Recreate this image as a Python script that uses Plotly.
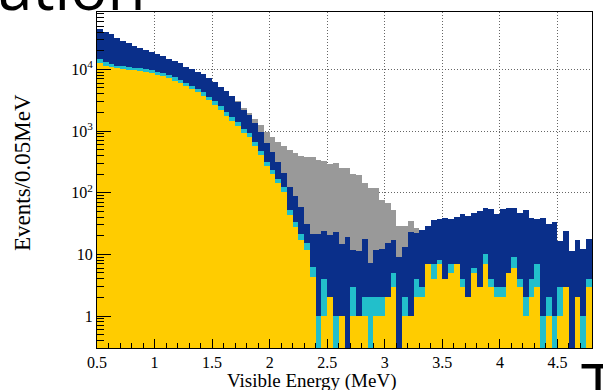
import plotly.graph_objects as go

# Visible-energy spectrum, 0.05 MeV bins from 0.5 to 4.8 MeV
E_MIN = 0.5
BIN_W = 0.05

# Histogram contents per bin (events / 0.05 MeV)
total_bkg = [  # grey
    43000, 39000, 35000, 30500, 27500, 25000, 23000, 21300, 19500, 18000,
    16600, 15400, 14000, 12900, 11900, 10500, 9600, 8700, 7900, 6950,
    6000, 5000, 4300, 3600, 3050, 2380, 1970, 1540, 1245, 970,
    785, 652, 568, 489, 432, 391, 381, 381, 345, 328,
    290, 305, 256, 247, 199, 192, 141, 120, 121, 75,
    69, 53, 29, 29, 35, 27, 20, 22, 25, 28,
    30, 30, 32, 35, 33, 36, 38, 42, 40, 35,
    40, 42, 42, 36, 40, 30, 28, 30, 24, 25,
    12, 18, 8, 13, 9, 13,
]
signal_total = [  # navy
    45000, 40700, 37000, 31800, 28800, 26400, 24200, 22400, 20500, 18900,
    17500, 16200, 14700, 13600, 12500, 11000, 10100, 9150, 8300, 7300,
    6300, 5220, 4450, 3690, 2910, 2200, 1800, 1350, 960, 650,
    465, 316, 205, 124, 88, 59, 31.5, 21.7, 21.7, 24,
    20.4, 23.1, 14.9, 19.2, 11.9, 11.4, 18, 7.3, 11.9, 12,
    15.3, 16.9, 9.1, 13.2, 23, 22, 24.6, 28.6, 35.8, 37.2,
    39, 38.1, 40.5, 45.9, 42, 47, 50.1, 56.7, 53.4, 44.8,
    53.4, 56.7, 55.4, 47, 52, 39.5, 37.2, 39.5, 31.6, 33.6,
    16.3, 24, 11.2, 17.4, 12.1, 18,
]
component_b = [  # cyan
    14700, 13300, 12050, 11450, 11200, 10900, 10600, 10400, 10000, 9620,
    9140, 8710, 8090, 7420, 6700, 6060, 5420, 4840, 4230, 3590,
    3020, 2510, 2030, 1660, 1380, 1070, 920, 670, 480, 320,
    235, 168, 122, 53, 33.6, 21.7, 15, 6.2, 1, 4,
    2, 1, 1, 0, 3, 1, 2, 2, 2, 2,
    2, 5, 0, 2, 1, 4, 3, 7, 7, 8,
    4, 7, 7, 4, 2, 6, 3, 10, 4, 3,
    3, 5, 9, 4, 2, 4, 7, 1, 2, 1,
    3, 3, 0, 2, 1, 4,
]
component_a = [  # yellow
    12500, 11500, 10800, 10500, 10100, 9860, 9620, 9280, 8920, 8600,
    8170, 7780, 7140, 6530, 5930, 5360, 4790, 4280, 3730, 3170,
    2630, 2180, 1770, 1450, 1200, 940, 785, 568, 405, 269,
    199, 141, 101, 43, 27.9, 16.9, 11.6, 4.3, 0, 1,
    2, 0, 1, 0, 1, 1, 1, 0, 1, 1,
    2, 3, 0, 1, 1, 2, 2, 7, 4, 7,
    4, 5, 7, 3, 2, 5, 3, 7, 3, 2,
    2, 5, 6, 3, 1, 2, 3, 0, 1, 0,
    1, 3, 0, 2, 0, 3,
]

x_ticks = [0.5, 1, 1.5, 2, 2.5, 3, 3.5, 4, 4.5]
x_tick_text = ["0.5", "1", "1.5", "2", "2.5", "3", "3.5", "4", "4.5"]
y_ticks = [1, 10, 100, 1000, 10000]
y_tick_text = ["1", "10", "10<sup>2</sup>", "10<sup>3</sup>", "10<sup>4</sup>"]

centers = [E_MIN + BIN_W * (i + 0.5) for i in range(len(signal_total))]


def clean(vals):
    return [v if v > 0 else None for v in vals]


fig = go.Figure()
for vals, col in [
    (total_bkg, "#999999"),
    (signal_total, "#0A2F8A"),
    (component_b, "#22BFCB"),
    (component_a, "#FFCC00"),
]:
    fig.add_trace(go.Bar(
        x=centers, y=clean(vals), width=BIN_W,
        marker=dict(color=col, line=dict(width=0)),
        showlegend=False, hoverinfo="skip",
    ))

W, H = 603, 390
L, R, T, B = 97, 11, 12, 42
PW, PH = W - L - R, H - T - B


def px(xp):
    return (xp - L) / PW


def py(yp):
    return (H - B - yp) / PH


serif = "Liberation Serif"
grid_dash = "1px,2px"

fig.update_layout(
    width=W, height=H,
    margin=dict(l=L, r=R, t=T, b=B, pad=0),
    paper_bgcolor="white", plot_bgcolor="white",
    barmode="overlay", bargap=0,
    font=dict(family=serif, size=16, color="black"),
    xaxis=dict(
        range=[0.5, 4.8], tickvals=x_ticks, ticktext=x_tick_text,
        ticks="inside", ticklen=9, tickwidth=1, tickcolor="black",
        minor=dict(dtick=0.1, tick0=0.5, ticks="inside", ticklen=5,
                   tickcolor="black", showgrid=False),
        showline=True, linecolor="black", linewidth=1, mirror=True,
        showgrid=True, gridcolor="#666666", griddash=grid_dash, gridwidth=1,
        zeroline=False, tickfont=dict(family=serif, size=16),
    ),
    yaxis=dict(
        type="log", range=[-0.519, 4.93],
        tickvals=y_ticks, ticktext=y_tick_text,
        ticks="inside", ticklen=14, tickwidth=1, tickcolor="black",
        minor=dict(dtick="D1", ticks="inside", ticklen=7,
                   tickcolor="black", showgrid=False),
        showline=True, linecolor="black", linewidth=1, mirror=True,
        showgrid=True, gridcolor="#666666", griddash=grid_dash, gridwidth=1,
        zeroline=False, tickfont=dict(family=serif, size=16),
    ),
    annotations=[
        dict(text="Visible Energy (MeV)", xref="paper", yref="paper",
             x=px(311), y=py(381), xanchor="center", yanchor="middle",
             showarrow=False, font=dict(family=serif, size=19)),
        dict(text="Events/0.05MeV", xref="paper", yref="paper",
             x=px(22), y=py(173), xanchor="center", yanchor="middle",
             textangle=-90, showarrow=False, font=dict(family=serif, size=23)),
        dict(text="ation", xref="paper", yref="paper",
             x=px(-4), y=py(30), xanchor="left", yanchor="bottom",
             showarrow=False,
             font=dict(family="Open Sans", size=62, weight=400)),
        dict(text="T", xref="paper", yref="paper",
             x=px(579), y=py(341), xanchor="left", yanchor="top",
             showarrow=False,
             font=dict(family="Open Sans", size=62, weight=400)),
    ],
)

fig.write_html("out.html")
